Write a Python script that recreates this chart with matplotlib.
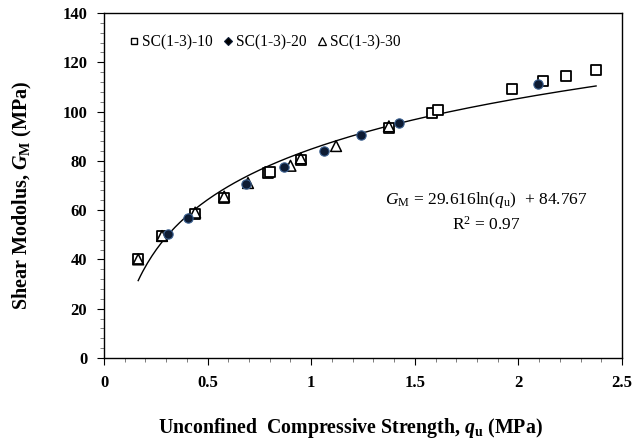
import numpy as np
import matplotlib
matplotlib.use('Agg')
import matplotlib.pyplot as plt
from matplotlib.lines import Line2D
from matplotlib.ticker import MultipleLocator

plt.rcParams['font.family'] = 'Liberation Serif'
plt.rcParams['mathtext.fontset'] = 'custom'
plt.rcParams['mathtext.rm'] = 'Liberation Serif'
plt.rcParams['mathtext.it'] = 'Liberation Serif:italic:bold'
plt.rcParams['mathtext.bf'] = 'Liberation Serif:bold'
plt.rcParams['mathtext.sf'] = 'Liberation Serif:italic'

# SC(1-3)-10 (squares)
qu_10 = [0.165, 0.28, 0.44, 0.58, 0.79, 0.80, 0.95, 1.375, 1.585, 1.61, 1.97, 2.12, 2.23, 2.375]
gm_10 = [40.0, 49.5, 58.5, 65.0, 75.0, 75.5, 80.5, 93.5, 99.5, 100.5, 109.0, 112.5, 114.5, 117.0]
# SC(1-3)-20 (filled)
qu_20 = [0.31, 0.405, 0.685, 0.87, 1.06, 1.24, 1.425, 2.095]
gm_20 = [50.5, 57.0, 70.5, 77.5, 84.0, 90.5, 95.5, 111.0]
# SC(1-3)-30 (triangles)
qu_30 = [0.165, 0.28, 0.44, 0.58, 0.695, 0.90, 0.95, 1.12, 1.375]
gm_30 = [40.0, 49.5, 59.0, 65.5, 71.0, 78.0, 81.0, 86.0, 94.0]

# log fit
fit_a = 29.616
fit_b = 84.767
fit_x = np.linspace(0.165, 2.375, 200)
fit_y = fit_a * np.log(fit_x) + fit_b

fig = plt.figure(figsize=(6.35, 4.43), dpi=100)
ax = fig.add_axes([0.1638, 0.1919, 0.8157, 0.7788])

ax.plot(fit_x, fit_y, color='black', lw=1.0, zorder=2)
ax.scatter(qu_10, gm_10, marker='s', s=55, facecolors='white', edgecolors='black', linewidths=1.3, zorder=3)
ax.scatter(qu_30, gm_30, marker='^', s=60, facecolors='none', edgecolors='black', linewidths=1.1, zorder=4)
ax.scatter(qu_20, gm_20, marker='o', s=45, facecolors='#0d1b33', edgecolors='#3a5f8f', linewidths=0.8, zorder=5)

ax.set_xlim(0, 2.5)
ax.set_ylim(0, 140)
ax.xaxis.set_major_locator(MultipleLocator(0.5))
ax.xaxis.set_minor_locator(MultipleLocator(0.1))
ax.yaxis.set_major_locator(MultipleLocator(20))
ax.yaxis.set_minor_locator(MultipleLocator(4))
ax.set_xticks([0, 0.5, 1, 1.5, 2, 2.5])
ax.set_xticklabels(['0', '0.5', '1', '1.5', '2', '2.5'])
ax.tick_params(which='major', direction='out', length=5, width=0.8, labelsize=12, pad=7)
ax.tick_params(which='minor', direction='out', length=3, width=0.6, color='#666666')
for lab in ax.get_xticklabels() + ax.get_yticklabels():
    lab.set_fontweight('bold')
for sp in ax.spines.values():
    sp.set_linewidth(1.0)

ax.set_xlabel(r'Unconfined  Compressive Strength, $q_\mathbf{u}$ (MPa)', fontsize=14.3, fontweight='bold', va='center')
ax.xaxis.set_label_coords(0.475, -0.203)
ax.set_ylabel(r'Shear Modolus, $G_\mathbf{M}$ (MPa)', fontsize=14.5, fontweight='bold', va='center')
ax.yaxis.set_label_coords(-0.158, 0.472)

ax.text(1.844, 64.1, r'$\mathsf{G}_\mathrm{M}$ = 29.616ln($\mathsf{q}_\mathrm{u}$)  + 84.767', fontsize=12.5, ha='center', va='center')
ax.text(1.844, 54.0, r'R$^\mathrm{2}$ = 0.97', fontsize=12.5, ha='center', va='center')

handles = [
    Line2D([], [], marker='s', ls='none', mfc='white', mec='black', ms=5, mew=1.0),
    Line2D([], [], marker='D', ls='none', mfc='black', mec='#0d1b33', ms=4, mew=0.8),
    Line2D([], [], marker='^', ls='none', mfc='white', mec='black', ms=6, mew=0.9),
]
ax.legend(handles, ['SC(1-3)-10', 'SC(1-3)-20', 'SC(1-3)-30'], loc='upper left',
          bbox_to_anchor=(0.025, 0.965), ncol=3, frameon=False, fontsize=11.2,
          handletextpad=0.0, columnspacing=0.5, handlelength=1.0, borderaxespad=0.2)

fig.savefig('out.png', dpi=100)
